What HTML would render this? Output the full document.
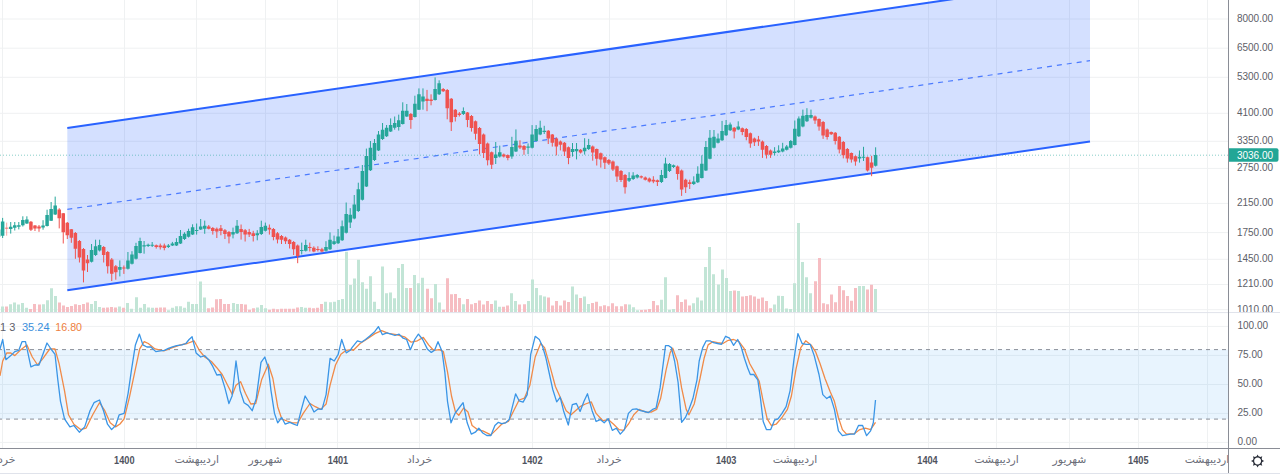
<!DOCTYPE html><html><head><meta charset="utf-8"><title>Chart</title><style>
html,body{margin:0;padding:0;background:#fff;width:1280px;height:476px;overflow:hidden}
svg{display:block}
.ax{font-family:"Liberation Sans",Arial,sans-serif;font-size:10px;fill:#5d6068}
.tl{font-family:"Liberation Sans","DejaVu Sans",sans-serif;font-size:10.8px;fill:#6a6d78} .tb{font-size:10px}
.tb{font-weight:bold;fill:#50535e}
</style></head><body>
<svg width="1280" height="476" viewBox="0 0 1280 476">
<rect x="0" y="0" width="1280" height="476" fill="#fff"/>
<path d="M2.5 0V448M124.5 0V448M196.5 0V448M265.5 0V448M337.5 0V448M419.5 0V448M532.5 0V448M609.5 0V448M726.5 0V448M794.5 0V448M928.5 0V448M996.5 0V448M1069.5 0V448M1138.5 0V448M1207.5 0V448M0 19H1228M0 48.2H1228M0 77.3H1228M0 113.3H1228M0 141.3H1228M0 168.4H1228M0 203.4H1228M0 232.6H1228M0 259.3H1228M0 284.5H1228M0 309.7H1228M0 326.4H1228M0 355.4H1228M0 384.5H1228M0 413.4H1228M0 442.4H1228" stroke="#eff1f2" stroke-width="1" fill="none"/>
<rect x="0" y="349.6" width="1228" height="69.5" fill="rgba(33,150,243,0.1)"/>
<path d="M0 349.6H1228M0 419.1H1228" stroke="#787b86" stroke-width="1" stroke-dasharray="4 4" stroke-dashoffset="2" fill="none" opacity="0.85"/>
<polygon points="67.3,128.0 1090,-20.80 1090,141.5 67.3,290.3" fill="rgba(41,98,255,0.2)"/>
<path d="M67.3 128.0L1090 -20.80M67.3 290.3L1090 141.5" stroke="#2962ff" stroke-width="2" fill="none"/>
<path d="M67.3 209.4L1090 60.60" stroke="#2962ff" stroke-width="1.2" stroke-dasharray="5 5" fill="none" opacity="0.8"/>
<path d="M0 155.2H1228" stroke="#26a69a" stroke-width="1" stroke-dasharray="1 2" fill="none" opacity="0.55"/>
<path d="M1 306.4h3v5.6h-3zM9 304.2h3v7.8h-3zM13 302.6h3v9.4h-3zM17 304.5h3v7.5h-3zM21 303.1h3v8.9h-3zM25 307.8h3v4.2h-3zM42 304.2h3v7.8h-3zM46 300.3h3v11.7h-3zM50 288.2h3v23.8h-3zM54 296.0h3v16.0h-3zM90 304.0h3v8.0h-3zM94 301.0h3v11.0h-3zM98 306.9h3v5.1h-3zM118 306.4h3v5.6h-3zM126 303.1h3v8.9h-3zM130 308.8h3v3.2h-3zM135 297.2h3v14.8h-3zM139 307.7h3v4.3h-3zM143 304.0h3v8.0h-3zM147 307.4h3v4.6h-3zM151 307.8h3v4.2h-3zM167 310.2h3v1.8h-3zM171 307.8h3v4.2h-3zM175 306.2h3v5.8h-3zM179 306.2h3v5.8h-3zM183 307.8h3v4.2h-3zM187 301.7h3v10.3h-3zM191 304.0h3v8.0h-3zM195 304.0h3v8.0h-3zM199 281.4h3v30.6h-3zM203 297.4h3v14.6h-3zM232 303.1h3v8.9h-3zM236 304.0h3v8.0h-3zM256 307.4h3v4.6h-3zM260 305.0h3v7.0h-3zM264 308.3h3v3.7h-3zM300 306.9h3v5.1h-3zM304 307.8h3v4.2h-3zM324 301.7h3v10.3h-3zM329 302.2h3v9.8h-3zM333 301.7h3v10.3h-3zM337 300.1h3v11.9h-3zM341 299.0h3v13.0h-3zM345 251.8h3v60.2h-3zM349 284.9h3v27.1h-3zM353 278.6h3v33.4h-3zM357 259.7h3v52.3h-3zM361 282.2h3v29.8h-3zM365 288.8h3v23.2h-3zM369 276.2h3v35.8h-3zM373 301.7h3v10.3h-3zM377 309.0h3v3.0h-3zM381 266.5h3v45.5h-3zM385 293.2h3v18.8h-3zM389 292.4h3v19.6h-3zM393 298.3h3v13.7h-3zM397 268.0h3v44.0h-3zM401 264.1h3v47.9h-3zM405 288.0h3v24.0h-3zM413 275.0h3v37.0h-3zM417 283.3h3v28.7h-3zM421 277.8h3v34.2h-3zM434 284.1h3v27.9h-3zM438 302.5h3v9.5h-3zM462 304.2h3v7.8h-3zM494 300.4h3v11.6h-3zM498 306.8h3v5.2h-3zM510 293.3h3v18.7h-3zM514 301.0h3v11.0h-3zM527 301.0h3v11.0h-3zM531 279.6h3v32.4h-3zM535 288.1h3v23.9h-3zM539 295.2h3v16.8h-3zM543 296.4h3v15.6h-3zM571 286.6h3v25.4h-3zM575 294.6h3v17.4h-3zM583 296.4h3v15.6h-3zM587 303.9h3v8.1h-3zM628 304.5h3v7.5h-3zM632 307.3h3v4.7h-3zM636 310.2h3v1.8h-3zM660 299.8h3v12.2h-3zM664 277.3h3v34.7h-3zM668 309.7h3v2.3h-3zM672 309.1h3v2.9h-3zM692 303.2h3v8.8h-3zM696 297.5h3v14.5h-3zM700 300.5h3v11.5h-3zM704 267.1h3v44.9h-3zM708 247.0h3v65.0h-3zM712 274.3h3v37.7h-3zM717 284.5h3v27.5h-3zM721 269.6h3v42.4h-3zM725 277.9h3v34.1h-3zM729 291.1h3v20.9h-3zM737 291.1h3v20.9h-3zM773 304.6h3v7.4h-3zM777 295.7h3v16.3h-3zM781 296.1h3v15.9h-3zM785 308.6h3v3.4h-3zM789 308.9h3v3.1h-3zM793 283.2h3v28.8h-3zM797 223.0h3v89.0h-3zM801 262.1h3v49.9h-3zM805 277.3h3v34.7h-3zM809 293.2h3v18.8h-3zM858 286.0h3v26.0h-3zM862 286.0h3v26.0h-3zM874 289.0h3v23.0h-3z" fill="#c2e5d6"/>
<path d="M5 306.4h3v5.6h-3zM29 309.0h3v3.0h-3zM33 304.0h3v8.0h-3zM38 304.5h3v7.5h-3zM58 302.6h3v9.4h-3zM62 305.5h3v6.5h-3zM66 306.9h3v5.1h-3zM70 306.0h3v6.0h-3zM74 304.2h3v7.8h-3zM78 305.0h3v7.0h-3zM82 304.0h3v8.0h-3zM86 302.6h3v9.4h-3zM102 307.8h3v4.2h-3zM106 307.4h3v4.6h-3zM110 306.9h3v5.1h-3zM114 307.4h3v4.6h-3zM122 307.8h3v4.2h-3zM155 307.8h3v4.2h-3zM159 307.4h3v4.6h-3zM163 307.4h3v4.6h-3zM207 308.3h3v3.7h-3zM211 307.4h3v4.6h-3zM215 299.3h3v12.7h-3zM219 298.9h3v13.1h-3zM223 304.0h3v8.0h-3zM227 304.0h3v8.0h-3zM240 304.0h3v8.0h-3zM244 304.5h3v7.5h-3zM248 309.7h3v2.3h-3zM252 308.3h3v3.7h-3zM268 309.7h3v2.3h-3zM272 308.8h3v3.2h-3zM276 309.3h3v2.7h-3zM280 308.8h3v3.2h-3zM284 308.8h3v3.2h-3zM288 308.8h3v3.2h-3zM292 308.8h3v3.2h-3zM296 307.4h3v4.6h-3zM308 307.8h3v4.2h-3zM312 308.3h3v3.7h-3zM316 307.8h3v4.2h-3zM320 304.0h3v8.0h-3zM409 288.0h3v24.0h-3zM426 288.8h3v23.2h-3zM430 298.3h3v13.7h-3zM442 309.8h3v2.2h-3zM446 278.3h3v33.7h-3zM450 294.3h3v17.7h-3zM454 294.0h3v18.0h-3zM458 298.1h3v13.9h-3zM466 299.0h3v13.0h-3zM470 304.2h3v7.8h-3zM474 303.1h3v8.9h-3zM478 300.4h3v11.6h-3zM482 304.5h3v7.5h-3zM486 301.0h3v11.0h-3zM490 303.9h3v8.1h-3zM502 306.8h3v5.2h-3zM506 305.4h3v6.6h-3zM518 304.5h3v7.5h-3zM523 304.2h3v7.8h-3zM547 297.5h3v14.5h-3zM551 305.6h3v6.4h-3zM555 301.0h3v11.0h-3zM559 305.6h3v6.4h-3zM563 300.4h3v11.6h-3zM567 302.1h3v9.9h-3zM579 298.1h3v13.9h-3zM591 303.0h3v9.0h-3zM595 301.8h3v10.2h-3zM599 306.2h3v5.8h-3zM603 305.3h3v6.7h-3zM607 306.2h3v5.8h-3zM611 303.3h3v8.7h-3zM615 306.2h3v5.8h-3zM620 306.2h3v5.8h-3zM624 304.2h3v7.8h-3zM640 309.9h3v2.1h-3zM644 309.7h3v2.3h-3zM648 309.1h3v2.9h-3zM652 301.0h3v11.0h-3zM656 305.3h3v6.7h-3zM676 295.2h3v16.8h-3zM680 302.1h3v9.9h-3zM684 299.6h3v12.4h-3zM688 305.6h3v6.4h-3zM733 290.4h3v21.6h-3zM741 296.4h3v15.6h-3zM745 296.1h3v15.9h-3zM749 295.2h3v16.8h-3zM753 296.4h3v15.6h-3zM757 298.8h3v13.2h-3zM761 297.5h3v14.5h-3zM765 301.1h3v10.9h-3zM769 308.2h3v3.8h-3zM814 281.2h3v30.8h-3zM818 258.1h3v53.9h-3zM822 303.2h3v8.8h-3zM826 304.3h3v7.7h-3zM830 294.4h3v17.6h-3zM834 302.2h3v9.8h-3zM838 286.0h3v26.0h-3zM842 290.2h3v21.8h-3zM846 295.9h3v16.1h-3zM850 300.7h3v11.3h-3zM854 288.1h3v23.9h-3zM866 289.6h3v22.4h-3zM870 284.7h3v27.3h-3z" fill="#f6bdc2"/>
<path d="M-1.41 228.0V242.0M2.63 217.9V238.0M10.72 222.0V233.6M14.76 222.0V230.5M18.80 222.0V229.4M22.84 216.3V226.5M26.88 216.3V224.0M43.05 220.2V229.7M47.09 209.7V226.5M51.14 202.0V221.0M55.18 196.6V215.0M91.55 244.0V262.5M95.59 239.7V256.0M99.64 239.7V251.5M119.84 260.4V276.4M127.93 252.0V269.5M131.97 251.2V264.5M136.01 242.8V259.5M140.05 237.7V253.5M144.09 241.0V253.7M148.14 243.6V247.0M152.18 242.0V247.0M168.34 244.0V248.0M172.39 241.9V246.0M176.43 238.2V246.0M180.47 230.0V244.0M184.51 232.3V240.0M188.55 228.7V237.5M192.59 224.3V235.0M196.64 223.5V234.6M200.68 219.0V230.0M204.72 220.6V233.8M233.01 227.6V238.4M237.05 220.0V234.0M257.26 230.2V240.3M261.30 220.7V235.0M265.35 222.6V231.5M301.72 242.6V254.4M305.76 239.7V251.5M325.97 241.2V251.5M330.01 232.4V250.0M334.05 235.6V245.0M338.10 229.0V244.0M342.14 220.5V241.0M346.18 202.5V233.5M350.22 208.2V228.0M354.26 195.0V219.3M358.30 182.7V212.0M362.35 165.0V200.5M366.39 148.6V187.0M370.43 141.0V171.0M374.47 139.0V161.0M378.51 131.0V151.0M382.55 123.0V140.0M386.60 125.0V137.0M390.64 118.4V132.0M394.68 116.5V129.7M398.72 114.6V130.6M402.76 102.3V124.5M406.80 104.0V117.0M414.89 95.7V117.5M418.93 88.4V110.0M422.97 88.4V109.7M435.10 77.4V100.5M439.14 80.3V95.0M463.39 107.4V115.0M495.72 142.0V164.0M499.76 145.6V157.5M511.89 136.8V158.8M515.93 129.4V152.0M528.06 143.4V154.1M532.10 125.1V148.5M536.14 125.1V141.5M540.18 120.7V135.2M544.22 125.8V134.0M572.51 143.0V156.6M576.56 143.0V159.4M584.64 138.2V154.6M588.68 138.9V150.0M629.10 172.2V182.0M633.14 172.2V180.0M637.18 174.0V178.5M661.43 169.9V183.0M665.47 157.7V178.5M669.52 163.0V172.0M673.56 164.5V168.0M693.77 176.3V185.0M697.81 166.3V183.0M701.85 155.3V178.5M705.89 141.0V171.0M709.93 130.0V159.3M713.97 130.0V148.5M718.02 133.5V143.5M722.06 120.9V141.0M726.10 120.0V136.0M730.14 122.5V131.0M738.22 121.3V130.2M774.60 147.2V155.4M778.64 145.3V153.0M782.68 142.8V152.3M786.72 145.0V150.5M790.77 140.0V148.5M794.81 120.5V145.5M798.85 116.4V137.0M802.89 109.6V127.3M806.93 108.2V122.0M810.97 109.6V118.5M859.48 150.5V162.6M863.52 146.8V161.0M875.64 147.3V166.5" stroke="#26a69a" stroke-width="1" fill="none"/>
<path d="M30.93 221.0V231.0M34.97 225.0V231.0M39.01 225.0V231.8M59.22 208.2V228.4M63.26 213.0V243.5M67.30 222.0V239.0M71.34 229.0V242.8M75.39 232.0V258.8M79.43 240.0V262.5M83.47 248.0V282.4M87.51 255.0V272.0M103.68 246.0V262.5M107.72 251.0V273.5M111.76 258.0V281.0M115.80 265.0V279.7M123.89 265.5V273.9M156.22 244.5V248.6M160.26 243.6V249.5M164.30 243.6V250.3M208.76 225.0V229.4M212.80 227.0V234.6M216.84 227.5V238.0M220.89 225.0V235.3M224.93 229.0V239.0M228.97 231.0V243.4M241.09 224.5V239.6M245.14 229.0V241.5M249.18 228.9V237.0M253.22 230.8V241.5M269.39 224.5V234.6M273.43 228.0V240.3M277.47 232.0V243.4M281.51 235.0V244.0M285.55 236.5V244.0M289.60 239.0V248.5M293.64 241.0V255.0M297.68 244.5V263.2M309.80 242.6V251.5M313.85 246.3V252.2M317.89 246.3V251.5M321.93 247.8V252.2M410.85 113.0V128.8M427.01 89.9V111.2M431.05 94.3V105.3M443.18 88.0V92.0M447.22 89.0V119.3M451.26 98.0V131.0M455.31 109.0V121.5M459.35 112.0V116.5M467.43 112.0V127.2M471.47 115.0V131.6M475.51 120.5V139.7M479.56 127.0V154.4M483.60 133.5V158.0M487.64 142.5V165.4M491.68 151.5V169.0M503.81 153.5V157.5M507.85 154.5V160.3M519.97 140.3V149.0M524.01 145.0V154.8M548.26 130.0V144.0M552.31 134.0V146.6M556.35 137.5V155.4M560.39 140.5V150.4M564.43 142.0V156.0M568.47 146.5V164.2M580.60 149.0V153.5M592.72 145.5V160.7M596.76 148.5V165.5M600.81 152.5V167.6M604.85 156.5V169.0M608.89 159.0V165.0M612.93 160.5V171.0M616.97 165.5V181.9M621.01 170.0V182.0M625.06 174.0V193.6M641.22 175.5V178.5M645.26 176.5V180.5M649.31 177.5V182.5M653.35 176.2V183.2M657.39 179.5V186.0M677.60 165.5V179.7M681.64 169.5V195.9M685.68 178.7V193.0M689.72 179.7V189.0M734.18 127.0V138.4M742.27 127.5V135.2M746.31 128.0V140.3M750.35 132.5V147.8M754.39 137.5V146.0M758.43 135.9V145.9M762.47 140.5V157.9M766.52 145.0V158.5M770.56 149.5V157.9M815.02 115.5V123.9M819.06 118.4V130.7M823.10 121.0V138.9M827.14 128.5V139.6M831.18 131.5V135.0M835.22 132.0V144.5M839.27 136.0V153.4M843.31 141.0V158.4M847.35 148.0V162.6M851.39 152.5V162.6M855.43 155.5V165.7M867.56 156.5V171.5M871.60 155.8V176.2" stroke="#ef5350" stroke-width="1" fill="none"/>
<path d="M-3.16 229.4h3.5v7.4h-3.5zM0.88 221.5h3.5v14.2h-3.5zM8.97 226.8h3.5v2.1h-3.5zM13.01 225.2h3.5v2.6h-3.5zM17.05 225.2h3.5v1.6h-3.5zM21.09 220.0h3.5v5.2h-3.5zM25.13 219.4h3.5v4.2h-3.5zM41.30 225.5h3.5v2.1h-3.5zM45.34 215.0h3.5v11.0h-3.5zM49.39 209.0h3.5v11.7h-3.5zM53.43 205.5h3.5v8.9h-3.5zM89.80 250.0h3.5v11.8h-3.5zM93.84 246.2h3.5v8.9h-3.5zM97.89 244.9h3.5v5.7h-3.5zM118.09 267.0h3.5v2.7h-3.5zM126.18 260.4h3.5v8.4h-3.5zM130.22 254.5h3.5v9.3h-3.5zM134.26 246.0h3.5v12.7h-3.5zM138.30 241.0h3.5v11.9h-3.5zM142.34 245.3h3.5v1.3h-3.5zM146.39 244.8h3.5v1.3h-3.5zM150.43 244.8h3.5v1.0h-3.5zM166.59 245.6h3.5v1.4h-3.5zM170.64 243.4h3.5v2.2h-3.5zM174.68 241.9h3.5v3.7h-3.5zM178.72 236.0h3.5v7.4h-3.5zM182.76 233.8h3.5v5.2h-3.5zM186.80 230.9h3.5v5.9h-3.5zM190.84 227.2h3.5v7.4h-3.5zM194.89 230.0h3.5v1.0h-3.5zM198.93 226.5h3.5v2.9h-3.5zM202.97 225.7h3.5v3.0h-3.5zM231.26 232.0h3.5v2.6h-3.5zM235.30 225.8h3.5v7.5h-3.5zM255.51 233.3h3.5v1.9h-3.5zM259.55 227.0h3.5v7.0h-3.5zM263.60 225.8h3.5v5.0h-3.5zM299.97 250.0h3.5v1.0h-3.5zM304.01 244.9h3.5v5.8h-3.5zM324.22 247.0h3.5v3.7h-3.5zM328.26 239.7h3.5v9.6h-3.5zM332.30 241.3h3.5v2.7h-3.5zM336.35 236.6h3.5v6.6h-3.5zM340.39 226.2h3.5v14.1h-3.5zM344.43 213.9h3.5v18.9h-3.5zM348.47 214.8h3.5v7.6h-3.5zM352.51 204.4h3.5v14.2h-3.5zM356.55 189.3h3.5v21.7h-3.5zM360.60 171.0h3.5v28.7h-3.5zM364.64 156.0h3.5v30.5h-3.5zM368.68 147.7h3.5v22.6h-3.5zM372.72 143.0h3.5v17.0h-3.5zM376.76 134.4h3.5v16.1h-3.5zM380.80 129.7h3.5v9.3h-3.5zM384.85 127.8h3.5v8.5h-3.5zM388.89 125.0h3.5v6.6h-3.5zM392.93 123.0h3.5v4.8h-3.5zM396.97 120.2h3.5v6.7h-3.5zM401.01 110.8h3.5v13.2h-3.5zM405.05 110.8h3.5v5.7h-3.5zM413.14 103.8h3.5v13.2h-3.5zM417.18 94.3h3.5v15.4h-3.5zM421.22 96.5h3.5v5.1h-3.5zM433.35 89.0h3.5v11.0h-3.5zM437.39 83.2h3.5v11.1h-3.5zM461.64 111.1h3.5v2.9h-3.5zM493.97 154.4h3.5v3.6h-3.5zM498.01 152.2h3.5v4.4h-3.5zM510.14 147.0h3.5v9.6h-3.5zM514.18 140.7h3.5v10.8h-3.5zM526.31 146.6h3.5v1.2h-3.5zM530.35 134.6h3.5v13.2h-3.5zM534.39 128.9h3.5v12.0h-3.5zM538.43 127.7h3.5v6.9h-3.5zM542.47 130.8h3.5v1.2h-3.5zM570.76 149.0h3.5v3.0h-3.5zM574.81 149.0h3.5v2.2h-3.5zM582.89 147.8h3.5v3.4h-3.5zM586.93 145.0h3.5v4.0h-3.5zM627.35 178.0h3.5v2.8h-3.5zM631.39 175.6h3.5v3.5h-3.5zM635.43 175.0h3.5v2.4h-3.5zM659.68 175.0h3.5v7.0h-3.5zM663.72 163.5h3.5v14.5h-3.5zM667.77 164.0h3.5v7.0h-3.5zM671.81 165.2h3.5v1.8h-3.5zM692.02 181.4h3.5v2.6h-3.5zM696.06 173.8h3.5v8.4h-3.5zM700.10 163.7h3.5v14.3h-3.5zM704.14 147.0h3.5v23.5h-3.5zM708.18 137.7h3.5v21.0h-3.5zM712.22 136.8h3.5v11.0h-3.5zM716.27 138.5h3.5v4.2h-3.5zM720.31 131.0h3.5v9.2h-3.5zM724.35 125.0h3.5v10.2h-3.5zM728.39 124.5h3.5v5.7h-3.5zM736.47 126.4h3.5v3.1h-3.5zM772.85 151.6h3.5v1.3h-3.5zM776.89 150.4h3.5v1.8h-3.5zM780.93 148.5h3.5v3.1h-3.5zM784.97 146.5h3.5v3.3h-3.5zM789.02 141.0h3.5v6.8h-3.5zM793.06 128.7h3.5v16.3h-3.5zM797.10 118.4h3.5v17.8h-3.5zM801.14 115.7h3.5v10.9h-3.5zM805.18 115.0h3.5v6.2h-3.5zM809.22 115.0h3.5v2.8h-3.5zM857.73 156.8h3.5v1.6h-3.5zM861.77 156.8h3.5v1.0h-3.5zM873.89 155.0h3.5v10.7h-3.5z" fill="#26a69a"/>
<path d="M29.18 221.8h3.5v7.9h-3.5zM33.22 225.5h3.5v3.1h-3.5zM37.26 226.5h3.5v2.1h-3.5zM57.47 209.5h3.5v8.8h-3.5zM61.51 213.2h3.5v19.1h-3.5zM65.55 222.7h3.5v12.6h-3.5zM69.59 229.2h3.5v8.5h-3.5zM73.64 233.0h3.5v15.8h-3.5zM77.68 241.0h3.5v16.5h-3.5zM81.72 249.0h3.5v21.6h-3.5zM85.76 259.6h3.5v3.6h-3.5zM101.93 247.1h3.5v7.9h-3.5zM105.97 252.0h3.5v14.2h-3.5zM110.01 259.6h3.5v14.1h-3.5zM114.05 266.3h3.5v5.9h-3.5zM122.14 267.5h3.5v1.0h-3.5zM154.47 245.3h3.5v1.7h-3.5zM158.51 245.6h3.5v1.7h-3.5zM162.55 245.5h3.5v2.5h-3.5zM207.01 226.5h3.5v2.2h-3.5zM211.05 228.0h3.5v3.0h-3.5zM215.09 228.7h3.5v2.9h-3.5zM219.14 228.3h3.5v2.7h-3.5zM223.18 230.2h3.5v3.8h-3.5zM227.22 232.0h3.5v4.5h-3.5zM239.34 229.0h3.5v3.0h-3.5zM243.39 230.2h3.5v4.4h-3.5zM247.43 232.0h3.5v2.6h-3.5zM251.47 233.3h3.5v2.6h-3.5zM267.64 227.7h3.5v1.8h-3.5zM271.68 229.0h3.5v8.0h-3.5zM275.72 233.3h3.5v6.2h-3.5zM279.76 236.0h3.5v3.7h-3.5zM283.80 237.5h3.5v3.7h-3.5zM287.85 239.7h3.5v4.3h-3.5zM291.89 242.0h3.5v7.3h-3.5zM295.93 245.6h3.5v10.3h-3.5zM308.05 247.0h3.5v1.0h-3.5zM312.10 247.8h3.5v3.7h-3.5zM316.14 249.0h3.5v1.0h-3.5zM320.18 249.3h3.5v2.2h-3.5zM409.10 114.0h3.5v6.0h-3.5zM425.26 98.7h3.5v2.2h-3.5zM429.30 99.5h3.5v1.4h-3.5zM441.43 89.0h3.5v2.3h-3.5zM445.47 89.9h3.5v18.3h-3.5zM449.51 98.7h3.5v23.5h-3.5zM453.56 109.7h3.5v7.3h-3.5zM457.60 113.4h3.5v1.5h-3.5zM465.68 112.5h3.5v7.4h-3.5zM469.72 116.0h3.5v12.0h-3.5zM473.76 121.3h3.5v12.5h-3.5zM477.81 128.0h3.5v16.0h-3.5zM481.85 134.6h3.5v18.4h-3.5zM485.89 143.4h3.5v16.9h-3.5zM489.93 152.2h3.5v12.5h-3.5zM502.06 154.4h3.5v2.2h-3.5zM506.10 155.1h3.5v2.9h-3.5zM518.22 145.5h3.5v2.0h-3.5zM522.26 146.0h3.5v3.7h-3.5zM546.51 130.8h3.5v7.6h-3.5zM550.56 134.6h3.5v8.2h-3.5zM554.60 138.4h3.5v8.2h-3.5zM558.64 141.5h3.5v3.2h-3.5zM562.68 142.8h3.5v8.8h-3.5zM566.72 147.2h3.5v10.7h-3.5zM578.85 149.8h3.5v2.7h-3.5zM590.97 146.4h3.5v6.1h-3.5zM595.01 149.0h3.5v9.7h-3.5zM599.06 153.2h3.5v6.2h-3.5zM603.10 157.3h3.5v5.5h-3.5zM607.14 160.0h3.5v3.5h-3.5zM611.18 161.4h3.5v8.2h-3.5zM615.22 166.2h3.5v10.2h-3.5zM619.26 171.0h3.5v8.9h-3.5zM623.31 175.0h3.5v12.3h-3.5zM639.47 176.2h3.5v1.4h-3.5zM643.51 177.4h3.5v2.3h-3.5zM647.56 178.5h3.5v2.9h-3.5zM651.60 179.7h3.5v1.7h-3.5zM655.64 180.3h3.5v1.7h-3.5zM675.85 166.4h3.5v7.5h-3.5zM679.89 170.4h3.5v19.2h-3.5zM683.93 179.7h3.5v7.6h-3.5zM687.97 182.2h3.5v1.8h-3.5zM732.43 127.7h3.5v3.7h-3.5zM740.52 128.3h3.5v3.7h-3.5zM744.56 128.9h3.5v8.2h-3.5zM748.60 133.3h3.5v10.1h-3.5zM752.64 138.4h3.5v3.8h-3.5zM756.68 139.6h3.5v1.9h-3.5zM760.72 141.5h3.5v8.2h-3.5zM764.77 146.0h3.5v8.8h-3.5zM768.81 150.4h3.5v4.4h-3.5zM813.27 116.4h3.5v4.1h-3.5zM817.31 119.1h3.5v7.5h-3.5zM821.35 121.9h3.5v13.6h-3.5zM825.39 129.4h3.5v7.5h-3.5zM829.43 132.1h3.5v2.1h-3.5zM833.47 132.7h3.5v8.3h-3.5zM837.52 136.8h3.5v12.8h-3.5zM841.56 142.0h3.5v13.2h-3.5zM845.60 148.9h3.5v9.5h-3.5zM849.64 153.1h3.5v6.3h-3.5zM853.68 156.3h3.5v5.2h-3.5zM865.81 157.3h3.5v13.1h-3.5zM869.85 162.6h3.5v5.2h-3.5z" fill="#ef5350"/>
<path d="M6.68 222.6V235.7" stroke="#ef5350" stroke-width="1" fill="none" opacity="0.5"/>
<path d="M4.93 227.5h3.5v1.5h-3.5z" fill="#ef5350" opacity="0.5"/>
<polyline points="0.0,375.8 2.7,361.0 6.7,353.0 10.8,353.0 14.8,355.6 20.2,350.3 26.9,344.9 32.3,357.0 37.6,365.0 43.0,358.3 49.7,349.0 55.0,349.0 59.1,363.7 64.5,390.6 68.5,414.8 73.9,424.2 80.6,429.6 86.0,428.2 92.7,414.8 99.5,402.7 104.8,410.7 110.2,422.8 115.6,426.9 120.0,424.0 124.1,418.8 129.4,397.3 134.8,371.8 139.7,348.9 144.2,341.7 148.3,343.5 155.0,348.9 163.8,350.8 172.5,347.6 180.5,344.9 187.2,343.5 194.0,340.8 199.3,350.3 204.7,357.0 211.4,361.5 216.8,367.7 222.2,374.5 227.6,385.2 232.4,394.6 236.0,385.2 240.6,381.7 245.4,393.3 250.8,404.0 255.7,403.5 261.6,379.8 268.3,364.2 272.9,378.5 277.7,406.7 281.7,418.8 287.1,421.0 292.5,422.8 297.9,422.8 303.2,413.4 310.0,403.5 315.3,406.7 320.7,409.4 326.1,404.0 330.1,385.2 335.5,365.0 340.9,354.3 346.2,350.3 351.6,349.7 353.4,350.3 360.1,343.5 368.2,338.2 374.9,333.6 381.6,330.6 388.3,333.3 396.4,334.7 404.5,336.8 411.2,342.2 417.4,340.8 423.3,337.4 428.6,344.9 433.5,350.3 439.4,349.7 443.4,351.6 447.5,371.8 451.5,396.0 455.5,412.1 458.8,415.3 463.6,408.0 468.0,412.1 472.1,425.5 477.4,429.6 482.8,430.9 490.9,434.9 496.3,429.6 501.6,424.2 508.4,421.5 513.7,410.7 519.1,400.0 524.5,398.1 529.9,385.2 535.2,357.0 540.6,343.5 544.6,347.6 550.0,366.4 555.4,386.5 560.8,398.6 566.2,410.7 571.0,414.8 576.9,409.4 580.0,406.7 585.4,404.0 591.3,401.9 596.1,413.4 602.8,420.7 608.2,419.6 613.6,424.2 619.0,429.6 623.5,430.4 628.4,424.2 633.8,414.8 639.1,409.4 645.9,412.1 651.2,412.1 656.6,409.4 660.6,398.6 666.0,370.4 670.1,352.9 672.7,348.1 677.3,361.0 681.6,387.9 686.2,409.4 688.9,414.8 694.2,404.0 700.0,378.5 704.1,358.3 708.1,344.9 712.7,341.7 717.5,342.7 722.9,343.5 728.3,340.3 733.6,339.5 739.0,341.7 744.4,348.9 749.8,363.7 755.1,373.1 759.2,381.2 763.2,401.3 767.2,418.8 771.3,425.5 776.1,424.2 782.0,417.5 787.4,409.4 791.4,396.0 796.0,369.1 800.8,347.6 805.7,340.8 811.0,344.9 815.5,351.6 820.1,363.7 825.0,378.5 830.3,391.9 834.4,401.3 838.4,417.5 842.4,429.6 846.5,434.1 854.5,433.6 859.9,429.6 865.3,428.2 870.6,429.6 875.5,422.3" stroke="#f08a48" stroke-width="1.3" fill="none" stroke-linejoin="round"/>
<polyline points="0.0,349.0 2.7,339.5 5.9,359.7 10.8,355.6 14.8,351.6 18.8,350.3 22.0,341.7 25.5,341.7 30.9,366.9 35.0,365.0 39.0,365.0 47.0,343.0 51.0,349.0 55.0,354.3 57.8,379.8 60.5,401.3 64.5,418.8 69.9,426.9 73.9,425.5 79.3,432.2 84.7,426.9 90.0,410.7 94.0,402.7 99.5,400.0 103.5,410.7 107.5,424.2 111.6,429.6 115.6,425.5 119.2,414.8 124.1,413.4 128.1,393.3 131.6,369.1 135.4,344.9 139.4,334.1 142.9,344.9 146.9,347.0 150.9,347.0 155.8,351.6 160.4,350.8 164.4,350.3 168.4,348.4 172.5,346.8 176.5,345.7 181.9,344.9 185.9,343.5 189.1,339.5 192.1,336.8 196.1,352.9 200.7,357.0 204.7,355.6 208.7,359.7 212.8,366.4 216.8,375.0 220.8,374.5 224.9,387.9 228.9,403.5 232.1,396.0 236.0,361.0 240.1,390.6 244.1,402.7 248.1,405.4 252.2,410.7 256.2,398.6 261.0,362.4 264.8,357.0 268.3,367.7 271.0,390.6 274.5,413.4 277.7,422.8 281.7,417.5 285.2,424.2 289.8,422.3 293.8,424.2 297.3,425.5 301.4,409.4 305.1,396.0 310.0,404.0 314.0,412.0 318.0,408.9 322.0,409.4 326.1,394.6 330.1,358.3 334.2,361.0 338.2,354.3 341.7,339.5 346.2,352.9 350.3,350.3 352.0,347.6 357.4,340.8 361.4,342.2 365.5,339.5 369.5,336.3 374.9,331.4 378.4,326.6 382.4,334.7 387.0,332.8 391.0,334.1 395.0,335.5 399.1,334.1 403.1,338.2 406.6,339.5 410.4,349.7 414.7,339.5 418.4,334.1 422.7,339.5 427.3,348.9 431.3,352.4 434.6,350.3 438.0,341.7 442.1,351.6 444.8,371.8 447.5,401.3 451.0,422.8 455.0,413.4 459.0,408.0 463.1,402.7 467.2,422.8 471.3,434.1 475.3,432.2 478.8,428.2 482.8,433.0 486.8,435.5 490.9,435.5 494.9,425.5 498.4,422.3 501.6,423.6 505.7,422.8 509.2,419.6 512.4,406.7 515.6,393.8 519.1,400.8 523.1,402.1 527.2,394.6 530.7,354.3 535.2,336.3 539.3,339.5 542.5,346.2 546.0,358.3 549.5,374.5 552.7,389.2 556.7,401.9 560.2,397.3 563.5,410.7 568.3,425.0 572.3,404.6 576.4,403.5 580.1,411.5 584.0,401.3 587.5,393.8 592.1,410.7 596.1,421.5 600.2,419.6 604.2,422.8 608.2,418.8 612.3,430.4 616.3,428.2 620.3,434.1 624.4,429.6 628.4,413.4 632.4,409.4 636.5,408.9 640.5,410.7 644.5,411.5 648.5,412.6 652.6,409.4 656.1,408.0 660.1,387.9 663.9,358.3 665.5,345.7 668.7,345.7 671.4,347.6 674.6,361.0 678.1,382.5 681.6,422.3 685.4,417.5 688.9,409.4 692.9,398.6 697.0,379.8 699.2,361.0 702.7,347.6 706.2,340.8 710.0,340.8 713.5,342.7 717.5,343.5 721.5,344.3 725.6,336.3 729.6,338.2 733.6,345.4 737.7,339.5 741.2,347.0 744.4,358.3 747.6,367.7 750.3,374.5 753.8,374.5 757.8,379.8 760.5,398.6 763.2,421.5 766.4,429.6 770.7,429.6 774.5,420.2 778.0,418.8 782.0,413.4 786.1,406.7 790.1,390.6 794.1,358.3 797.9,333.6 802.1,343.5 806.1,344.3 810.2,344.3 814.2,355.6 819.0,374.5 822.8,394.6 826.8,398.6 830.3,396.0 834.4,409.4 838.4,430.9 842.4,435.7 846.5,434.9 850.5,434.1 854.5,434.1 858.5,425.5 862.6,425.5 866.6,435.7 870.6,430.9 873.3,422.8 875.5,400.0" stroke="#3a95e6" stroke-width="1.3" fill="none" stroke-linejoin="round"/>
<path d="M0 312.6H1228" stroke="#e0e3eb" stroke-width="1" fill="none"/>
<rect x="1229" y="0" width="51" height="476" fill="#fff"/>
<path d="M1228.5 0V474" stroke="#8a8d96" stroke-width="1" fill="none"/>
<path d="M1229 312.5H1280" stroke="#e0e3eb" stroke-width="1" fill="none"/>
<g clip-path="url(#clipP)">
<text class="ax" x="1255" y="21.9" text-anchor="middle">8000.00</text>
<text class="ax" x="1255" y="51.1" text-anchor="middle">6500.00</text>
<text class="ax" x="1255" y="80.2" text-anchor="middle">5300.00</text>
<text class="ax" x="1255" y="116.2" text-anchor="middle">4100.00</text>
<text class="ax" x="1255" y="144.2" text-anchor="middle">3350.00</text>
<text class="ax" x="1255" y="171.3" text-anchor="middle">2750.00</text>
<text class="ax" x="1255" y="206.3" text-anchor="middle">2150.00</text>
<text class="ax" x="1255" y="235.5" text-anchor="middle">1750.00</text>
<text class="ax" x="1255" y="262.2" text-anchor="middle">1450.00</text>
<text class="ax" x="1255" y="287.4" text-anchor="middle">1210.00</text>
<text class="ax" x="1255" y="312.6" text-anchor="middle">1010.00</text>
</g>
<defs><clipPath id="clipP"><rect x="1229" y="0" width="51" height="312"/></clipPath></defs>
<text class="ax" x="1237.5" y="329.3">100.00</text>
<text class="ax" x="1237.5" y="358.3">75.00</text>
<text class="ax" x="1237.5" y="387.4">50.00</text>
<text class="ax" x="1237.5" y="416.3">25.00</text>
<text class="ax" x="1237.5" y="445.3">0.00</text>
<path d="M1229 148.2H1276.5a2 2 0 0 1 2 2V159.7a2 2 0 0 1 -2 2H1229z" fill="#22a696"/>
<text class="ax" x="1255" y="158.6" text-anchor="middle" style="fill:#fff">3036.00</text>
<text x="0" y="330.8" style="font-family:'Liberation Sans',Arial,sans-serif;font-size:11px"><tspan fill="#5d606b">1 3</tspan><tspan x="22" fill="#3a8fdc">35.24</tspan><tspan x="55.3" fill="#ee8040" textLength="26.7" lengthAdjust="spacingAndGlyphs">16.80</tspan></text>
<rect x="0" y="449" width="1228" height="27" fill="#fff"/>
<path d="M0 448.5H1280" stroke="#8a8d96" stroke-width="1" fill="none"/>
<path d="M0 473.5H1280" stroke="#e0e3eb" stroke-width="1" fill="none"/>
<g clip-path="url(#clipT)">
<text class="tl" x="2.8" y="462.5" text-anchor="middle">خرداد</text>
<text class="tl tb" x="124.3" y="463.5" text-anchor="middle" textLength="20.4" lengthAdjust="spacingAndGlyphs">1400</text>
<text class="tl" x="196.8" y="462.5" text-anchor="middle">اردیبهشت</text>
<text class="tl" x="265.5" y="462.5" text-anchor="middle">شهریور</text>
<text class="tl tb" x="338" y="463.5" text-anchor="middle" textLength="20.4" lengthAdjust="spacingAndGlyphs">1401</text>
<text class="tl" x="419.5" y="462.5" text-anchor="middle">خرداد</text>
<text class="tl tb" x="532.3" y="463.5" text-anchor="middle" textLength="20.4" lengthAdjust="spacingAndGlyphs">1402</text>
<text class="tl" x="609" y="462.5" text-anchor="middle">خرداد</text>
<text class="tl tb" x="726.2" y="463.5" text-anchor="middle" textLength="20.4" lengthAdjust="spacingAndGlyphs">1403</text>
<text class="tl" x="795" y="462.5" text-anchor="middle">اردیبهشت</text>
<text class="tl tb" x="927.5" y="463.5" text-anchor="middle" textLength="20.4" lengthAdjust="spacingAndGlyphs">1404</text>
<text class="tl" x="996.5" y="462.5" text-anchor="middle">اردیبهشت</text>
<text class="tl" x="1069.5" y="462.5" text-anchor="middle">شهریور</text>
<text class="tl tb" x="1138.3" y="463.5" text-anchor="middle" textLength="20.4" lengthAdjust="spacingAndGlyphs">1405</text>
<text class="tl" x="1207" y="462.5" text-anchor="middle">اردیبهشت</text>
</g>
<defs><clipPath id="clipT"><rect x="0" y="449" width="1228" height="27"/></clipPath></defs>
<g transform="translate(1257.6 461)"><circle r="4.1" fill="none" stroke="#2a2e39" stroke-width="1.3"/><path d="M-1.27 -4.11L0.00 -6.60L1.27 -4.11ZM2.01 -3.80L4.67 -4.67L3.80 -2.01ZM4.11 -1.27L6.60 0.00L4.11 1.27ZM3.80 2.01L4.67 4.67L2.01 3.80ZM1.27 4.11L0.00 6.60L-1.27 4.11ZM-2.01 3.80L-4.67 4.67L-3.80 2.01ZM-4.11 1.27L-6.60 0.00L-4.11 -1.27ZM-3.80 -2.01L-4.67 -4.67L-2.01 -3.80Z" fill="#2a2e39"/></g>
</svg></body></html>
